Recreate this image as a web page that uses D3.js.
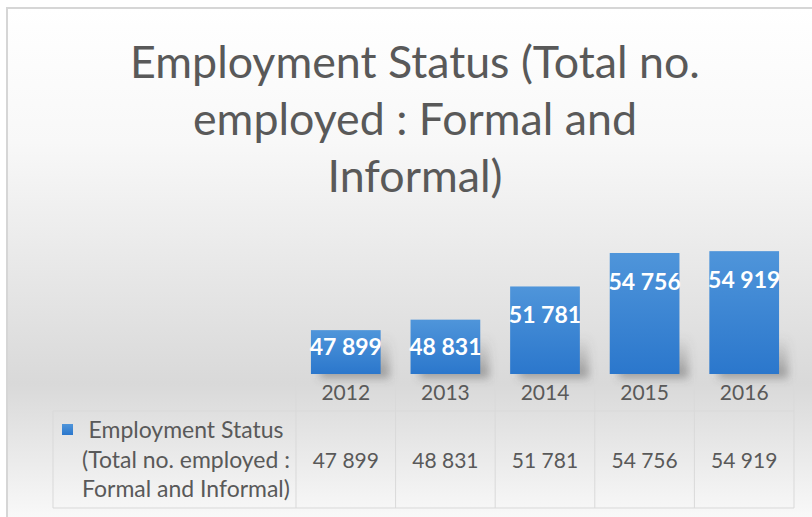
<!DOCTYPE html>
<html>
<head>
<meta charset="utf-8">
<script src="https://cdn.jsdelivr.net/npm/d3@7"></script>
<style>
  html, body { margin: 0; padding: 0; background: #ffffff; }
  svg { display: block; }
  text { font-family: Lato, "Open Sans", sans-serif; }
</style>
</head>
<body>
<svg id="chart" width="812" height="517"></svg>
<script>
// Data
const years = ["2012", "2013", "2014", "2015", "2016"];
const employed = [47899, 48831, 51781, 54756, 54919];
const titleLines = ["Employment Status (Total no.", "employed : Formal and", "Informal)"];
const seriesLines = ["Employment Status", "(Total no. employed :", "Formal and Informal)"];
const valueDomain = [44000, 56000];

const W = 812, H = 517;
const svg = d3.select("#chart");
const defs = svg.append("defs");

// Chart background: white -> light grey -> white
const bg = defs.append("linearGradient").attr("id", "bgGrad")
  .attr("x1", 0).attr("y1", 0).attr("x2", 0).attr("y2", 1);
bg.append("stop").attr("offset", "0%").attr("stop-color", "#ffffff");
bg.append("stop").attr("offset", "25%").attr("stop-color", "#f8f8f8");
bg.append("stop").attr("offset", "70%").attr("stop-color", "#d9d9d9");
bg.append("stop").attr("offset", "100%").attr("stop-color", "#ffffff");

const barGrad = defs.append("linearGradient").attr("id", "barGrad")
  .attr("x1", 0).attr("y1", 0).attr("x2", 0).attr("y2", 1);
barGrad.append("stop").attr("offset", "0%").attr("stop-color", "#4f95da");
barGrad.append("stop").attr("offset", "100%").attr("stop-color", "#2b77cc");

const shadowGrad = defs.append("linearGradient").attr("id", "shadowGrad")
  .attr("x1", 0).attr("y1", 0).attr("x2", 0).attr("y2", 1);
shadowGrad.append("stop").attr("offset", "0%").attr("stop-color", "#606060").attr("stop-opacity", 0);
shadowGrad.append("stop").attr("offset", "100%").attr("stop-color", "#505050").attr("stop-opacity", 0.5);

defs.append("filter").attr("id", "blur").attr("x", "-50%").attr("y", "-50%")
  .attr("width", "200%").attr("height", "200%")
  .append("feGaussianBlur").attr("stdDeviation", 4);

// Chart area
svg.append("rect")
  .attr("x", 7).attr("y", 8).attr("width", W + 20).attr("height", H + 20)
  .attr("fill", "url(#bgGrad)")
  .attr("stroke", "#d6d6d6").attr("stroke-width", 2);

// Title
const titleG = svg.append("g").attr("fill", "#595959");
const titleT = titleG.selectAll("text").data(titleLines).join("text")
  .attr("x", 415).attr("y", (d, i) => 78 + i * 57)
  .attr("text-anchor", "middle")
  .style("font-size", "44px")
  .text(d => d);
{
  const w = titleT.nodes()[0].getComputedTextLength();
  titleT.style("font-size", (44 * 570 / w) + "px");
}

// Scales
const x = d3.scaleBand().domain(years).range([296, 794])
  .paddingInner(0.3).paddingOuter(0.15);
const y = d3.scaleLinear().domain(valueDomain).range([374, 239]);
const base = y.range()[0];
const step = x.step();
const colStart = x.range()[0];

const rows = years.map((yr, i) => ({ year: yr, value: employed[i] }));
const fmt = d3.formatLocale({ decimal: ".", thousands: " ", grouping: [3], currency: ["", ""] }).format(",d");

// Bar shadows
svg.append("g").attr("filter", "url(#blur)")
  .selectAll("rect").data(rows).join("rect")
  .attr("x", d => x(d.year) + 9)
  .attr("y", base - 38)
  .attr("width", x.bandwidth())
  .attr("height", 42)
  .attr("fill", "url(#shadowGrad)");

// Bars
svg.append("g").selectAll("rect").data(rows).join("rect")
  .attr("x", d => x(d.year))
  .attr("y", d => y(d.value))
  .attr("width", x.bandwidth())
  .attr("height", d => base - y(d.value))
  .attr("fill", "url(#barGrad)");

// Data labels
svg.append("g").selectAll("text").data(rows).join("text")
  .attr("x", d => x(d.year) + x.bandwidth() / 2)
  .attr("y", d => Math.min(y(d.value) + 37, base - 19))
  .attr("text-anchor", "middle")
  .attr("fill", "#ffffff")
  .style("font-size", "23px").style("font-weight", 700)
  .text(d => fmt(d.value));

// Category axis labels
const xAxis = d3.axisBottom(x).tickSize(0).tickPadding(0);
const axisG = svg.append("g").attr("transform", `translate(0,${base})`).call(xAxis);
axisG.select(".domain").remove();
axisG.selectAll("text")
  .attr("dy", null).attr("y", 26)
  .attr("fill", "#595959")
  .style("font-size", "21px")
  .style("font-family", "Lato, 'Open Sans', sans-serif");

// Data table grid
const gridColor = "#d9d9d9";
const tableTop = 411, tableBottom = 508, tableLeft = 53, headerTop = 377;
const grid = svg.append("g").attr("stroke", gridColor).attr("stroke-width", 1).attr("fill", "none");
grid.append("line").attr("x1", tableLeft).attr("x2", colStart + step * years.length)
  .attr("y1", tableTop).attr("y2", tableTop);
grid.append("line").attr("x1", tableLeft).attr("x2", colStart + step * years.length)
  .attr("y1", tableBottom).attr("y2", tableBottom);
grid.append("line").attr("x1", tableLeft).attr("x2", tableLeft)
  .attr("y1", tableTop).attr("y2", tableBottom);
grid.selectAll("line.col").data(d3.range(years.length + 1)).join("line")
  .attr("class", "col")
  .attr("x1", i => colStart + i * step).attr("x2", i => colStart + i * step)
  .attr("y1", headerTop).attr("y2", tableBottom);

// Table values
svg.append("g").selectAll("text").data(rows).join("text")
  .attr("x", d => x(d.year) + x.bandwidth() / 2)
  .attr("y", 468)
  .attr("text-anchor", "middle")
  .attr("fill", "#595959")
  .style("font-size", "21px")
  .text(d => fmt(d.value));

// Series key and name
svg.append("rect").attr("x", 62).attr("y", 424).attr("width", 11).attr("height", 11)
  .attr("fill", "url(#barGrad)");
const keyT = svg.append("g").selectAll("text").data(seriesLines).join("text")
  .attr("x", 186).attr("y", (d, i) => 438 + i * 29.5)
  .attr("text-anchor", "middle")
  .attr("fill", "#595959")
  .style("font-size", "18px")
  .text(d => d);
{
  const w = keyT.nodes()[1].getComputedTextLength();
  keyT.style("font-size", (18 * 208 / w) + "px");
}
</script>
</body>
</html>
